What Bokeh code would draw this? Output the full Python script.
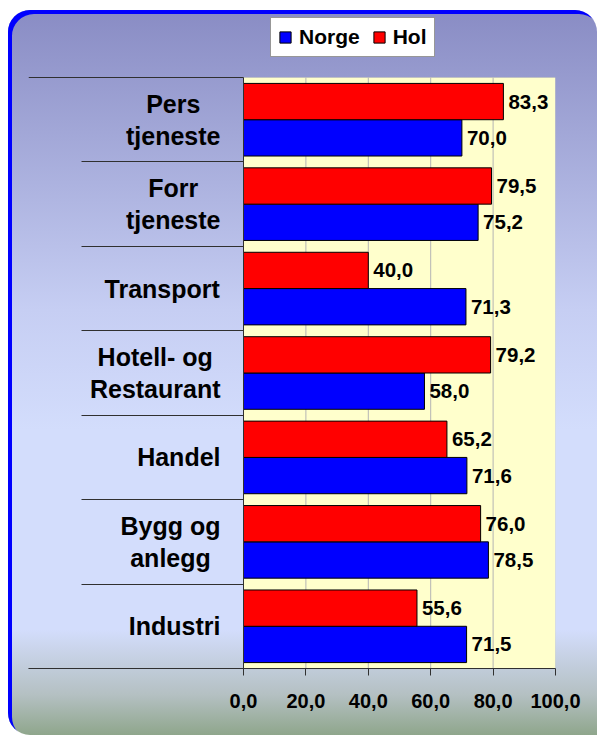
from bokeh.plotting import figure
from bokeh.models import (Range1d, FixedTicker, BoxAnnotation, Legend, LegendItem)
from bokeh.core.properties import value
from bokeh.embed import file_html
from bokeh.resources import INLINE

# ---- data (bottom to top) ----
categories = ["Industri", "Bygg og\nanlegg", "Handel", "Hotell- og\nRestaurant",
              "Transport", "Forr\ntjeneste", "Pers\ntjeneste"]
norge = [71.5, 78.5, 71.6, 58.0, 71.3, 75.2, 70.0]
hol = [55.6, 76.0, 65.2, 79.2, 40.0, 79.5, 83.3]
x_ticks = [0, 20, 40, 60, 80, 100]
x_tick_labels = ["0,0", "20,0", "40,0", "60,0", "80,0", "100,0"]
series_names = ["Norge", "Hol"]

FONT = "Liberation Sans"

# layout constants (page pixels)
CANVAS_X, CANVAS_Y, CANVAS_W, CANVAS_H = 8, 10, 589, 725
FRAME_L, ZERO_X, HUNDRED_X = 28, 243, 555
FRAME_T, AREA_T, AREA_B = 14, 77, 668

# approximate Arial/Liberation Sans Bold advance widths (per 1000 em)
W = {' ': 278, '-': 333, ',': 278,
     'A': 722, 'B': 722, 'F': 611, 'H': 722, 'I': 278, 'P': 667, 'R': 722, 'T': 611,
     'a': 556, 'b': 611, 'c': 556, 'd': 611, 'e': 556, 'f': 333, 'g': 611, 'h': 611,
     'i': 278, 'j': 278, 'k': 556, 'l': 278, 'm': 889, 'n': 611, 'o': 611, 'p': 611,
     'r': 389, 's': 556, 't': 333, 'u': 611, 'v': 556, 'y': 556}


def text_w(s, size):
    return max(sum(W.get(c, 556) for c in line) for line in s.split("\n")) / 1000 * size


n = len(categories)
ypos = [i + 0.5 for i in range(n)]
bar_h = 0.43
off = 0.215

x_start = -100 * (ZERO_X - FRAME_L) / (HUNDRED_X - ZERO_X)
y_end = n * (AREA_B - FRAME_T) / (AREA_B - AREA_T)

p = figure(width=CANVAS_W, height=CANVAS_H,
           x_range=Range1d(x_start, 100), y_range=Range1d(0, y_end),
           output_backend="svg", toolbar_location=None,
           min_border_left=FRAME_L - CANVAS_X,
           min_border_right=CANVAS_X + CANVAS_W - HUNDRED_X,
           min_border_top=FRAME_T - CANVAS_Y,
           min_border_bottom=CANVAS_Y + CANVAS_H - AREA_B)
p.border_fill_color = None
p.background_fill_color = None
p.outline_line_color = None
p.styles = {
    "margin-left": f"{CANVAS_X}px",
    "margin-top": f"{CANVAS_Y}px",
    "background": "linear-gradient(to bottom, #898CC4 0px, #C6CEF3 300px, #D3DDFC 420px, "
                  "#D3DDFC 620px, #B4C0C2 685px, #8FA68C 725px)",
    "border-radius": "22px 22px 0 22px",
    "box-shadow": "inset 4px 4px 0 0 #0000FF",
}
p.xgrid.grid_line_color = None
p.ygrid.grid_line_color = None

# plot area
area = BoxAnnotation(left=0, right=100, bottom=0, top=n, fill_color="#FFFFCC",
                     fill_alpha=1, line_color="#A8A8A8", line_width=1, level="image")
p.add_layout(area)
p.segment(x0=x_ticks[1:-1], y0=[0] * (len(x_ticks) - 2), x1=x_ticks[1:-1],
          y1=[n] * (len(x_ticks) - 2), line_color="#B4B4B4", line_width=1)

r_n = p.hbar(y=[y - off for y in ypos], right=norge, left=0, height=bar_h,
             fill_color="#0000FF", line_color="#000000", line_width=1)
r_h = p.hbar(y=[y + off for y in ypos], right=hol, left=0, height=bar_h,
             fill_color="#FF0000", line_color="#000000", line_width=1)

fmt = lambda v: f"{v:.1f}".replace(".", ",")
for vals, sgn in ((norge, -1), (hol, 1)):
    p.text(x=vals, y=[y + sgn * off for y in ypos], text=[fmt(v) for v in vals], x_offset=5,
           text_font=value(FONT), text_font_style="bold", text_font_size="20.5px",
           text_align="left", text_baseline="middle", text_color="#000000")

# category labels
cat_size = 25
p.text(x=[0] * n, y=ypos, text=categories,
       x_offset=[-(23 + text_w(c, cat_size) / 2) for c in categories],
       text_font=value(FONT), text_font_style="bold", text_font_size=f"{cat_size}px",
       text_align="center", text_baseline="middle", text_color="#000000",
       text_line_height=1.15)

# x axis
xa = p.xaxis[0]
xa.ticker = FixedTicker(ticks=x_ticks)
xa.major_label_overrides = {t: l for t, l in zip(x_ticks, x_tick_labels)}
xa.major_label_text_font = FONT
xa.major_label_text_font_style = "bold"
xa.major_label_text_font_size = "20px"
xa.major_label_text_color = "#000000"
xa.major_label_standoff = 18
xa.major_tick_out = 7
xa.major_tick_in = 0
xa.minor_tick_out = 0
xa.minor_tick_in = 0
xa.axis_line_color = "#303030"
xa.major_tick_line_color = "#303030"

# y axis at x=0: separator lines as ticks
ya = p.yaxis[0]
ya.fixed_location = 0
ya.bounds = (0, n)
ya.ticker = FixedTicker(ticks=[0, n], minor_ticks=list(range(1, n)))
ya.major_label_overrides = {0: "", n: ""}
ya.major_label_text_font_size = "1px"
ya.major_tick_out = ZERO_X - FRAME_L
ya.major_tick_in = 0
ya.minor_tick_out = 162
ya.minor_tick_in = 0
ya.axis_line_color = "#303030"
ya.major_tick_line_color = "#303030"
ya.minor_tick_line_color = "#303030"

# legend
legend = Legend(items=[LegendItem(label=series_names[0], renderers=[r_n]),
                       LegendItem(label=series_names[1], renderers=[r_h])],
                orientation="horizontal", location=(270 - FRAME_L, AREA_B - 57),
                label_text_font=FONT, label_text_font_style="bold",
                label_text_font_size="21px", label_text_color="#000000",
                glyph_width=14, glyph_height=14, label_standoff=7, spacing=12,
                padding=7, margin=0, label_height=22,
                border_line_color="#303030", border_line_width=1,
                background_fill_color="#FFFFFF", background_fill_alpha=1)
p.add_layout(legend, "center")

open("out.html", "w").write(file_html(p, INLINE))
